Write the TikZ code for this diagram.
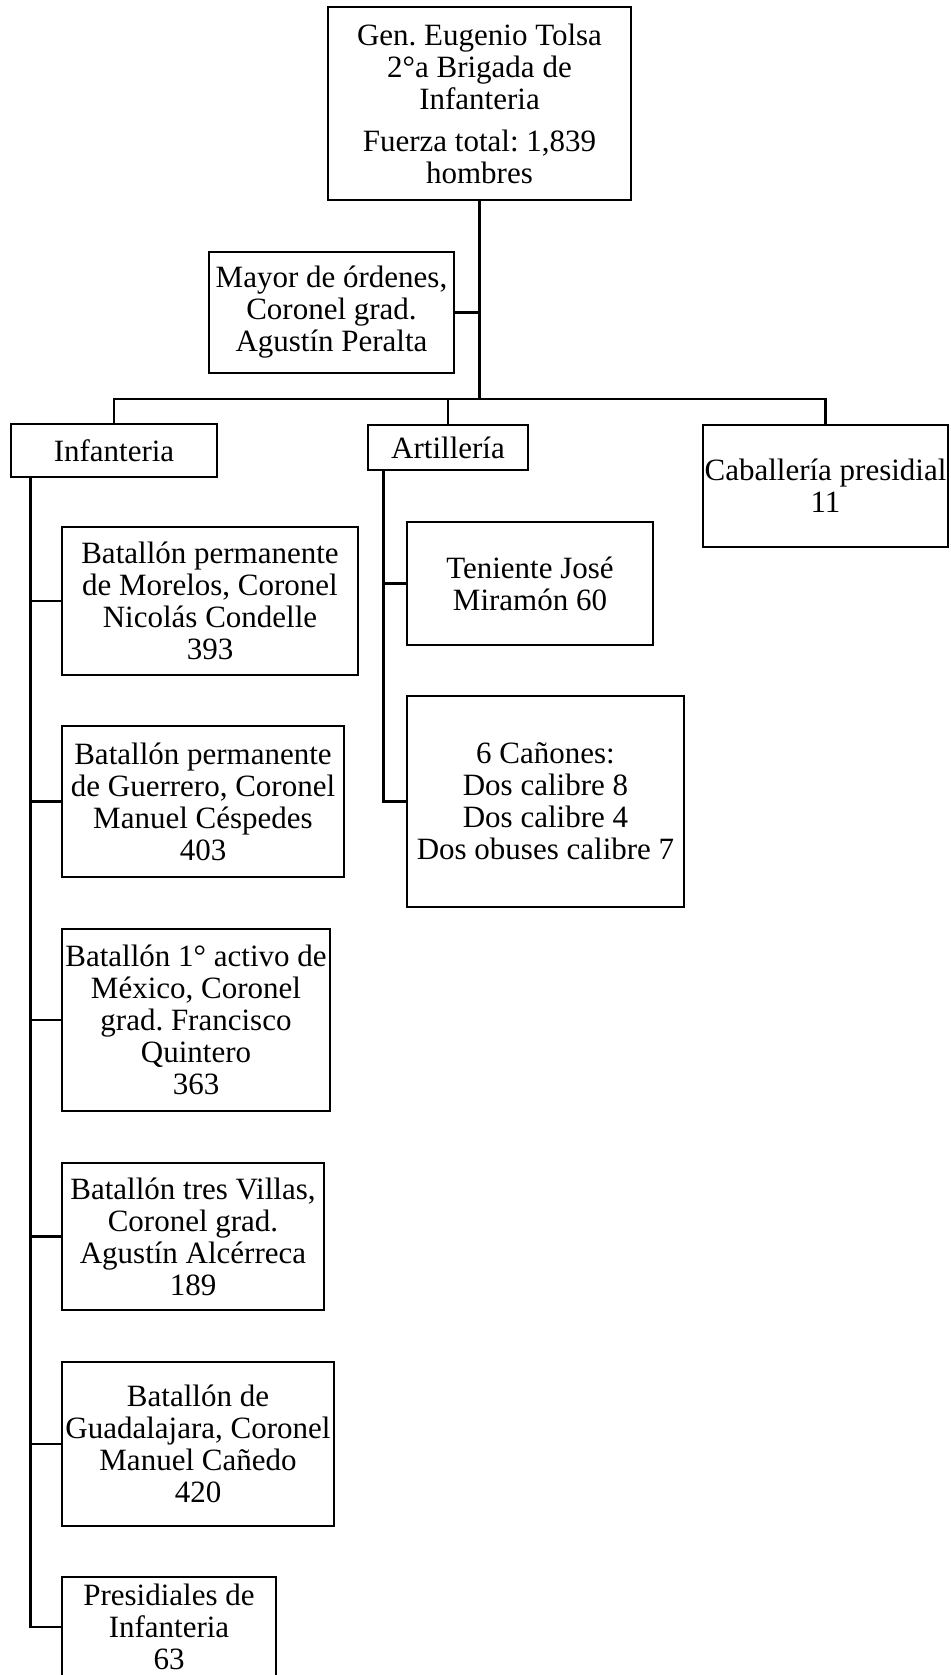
\documentclass[tikz,border=0pt]{standalone}
\usepackage{fontspec}
\setmainfont{Liberation Serif}
\frenchspacing
\begin{document}
\begin{tikzpicture}[x=1pt,y=-1pt,
		unit/.style={draw,line width=2.7pt,align=center,inner sep=0pt,font=\fontsize{31}{32}\selectfont},
		link/.style={line width=2.7pt}]
		\useasboundingbox (0,0) rectangle (950,1675);
		\node[unit,minimum width=303pt,minimum height=193pt] (tolsa) at (479.5,103.5) {Gen. Eugenio Tolsa\\2°a Brigada de\\Infanteria\\[10pt]Fuerza total: 1,839\\hombres};
		\node[unit,minimum width=245pt,minimum height=121pt] (mayor) at (331.5,312.5) {Mayor de órdenes,\\Coronel grad.\\Agustín Peralta};
		\node[unit,minimum width=206pt,minimum height=53pt] (infanteria) at (114,450.5) {Infanteria};
		\node[unit,minimum width=160pt,minimum height=45pt] (artilleria) at (448,447.5) {Artillería};
		\node[unit,minimum width=245pt,minimum height=122pt] (caballeria) at (825.5,486) {Caballería presidial\\11};
		\node[unit,minimum width=246pt,minimum height=123pt] (teniente) at (530,583.5) {Teniente José\\Miramón 60};
		\node[unit,minimum width=277pt,minimum height=211pt] (canones) at (545.5,801.5) {6 Cañones:\\Dos calibre 8\\Dos calibre 4\\Dos obuses calibre 7};
		\node[unit,minimum width=296pt,minimum height=148pt] (morelos) at (210,601) {Batallón permanente\\de Morelos, Coronel\\Nicolás Condelle\\393};
		\node[unit,minimum width=282pt,minimum height=151pt] (guerrero) at (203,801.5) {Batallón permanente\\de Guerrero, Coronel\\Manuel Céspedes\\403};
		\node[unit,minimum width=268pt,minimum height=182pt] (mexico) at (196,1020) {Batallón 1° activo de\\México, Coronel\\grad. Francisco\\Quintero\\363};
		\node[unit,minimum width=262pt,minimum height=147pt] (villas) at (193,1236.5) {Batallón tres Villas,\\Coronel grad.\\Agustín Alcérreca\\189};
		\node[unit,minimum width=272pt,minimum height=164pt] (guadalajara) at (198,1444) {Batallón de\\Guadalajara, Coronel\\Manuel Cañedo\\420};
		\node[unit,minimum width=214pt,minimum height=100pt] (presidiales) at (169,1627) {Presidiales de\\Infanteria\\63};
		\coordinate (hub) at (479.5,399);
		\coordinate (itrunk) at ([xshift=21pt]infanteria.south west);
		\coordinate (atrunk) at ([xshift=17pt]artilleria.south west);
		\draw[link] (tolsa.south) -- (hub);
		\draw[link] (mayor.east) -- (mayor.east -| hub);
		\draw[link] (infanteria.north) |- (hub) -| (caballeria.north);
		\draw[link] (artilleria.north) -- (artilleria.north |- hub);
		\draw[link] (itrunk) |- (presidiales.west);
		\foreach \b in {morelos,guerrero,mexico,villas,guadalajara}
			\draw[link] (\b.west) -- (\b.west -| itrunk);
		\draw[link] (atrunk) |- (canones.west);
		\draw[link] (teniente.west) -- (teniente.west -| atrunk);
	\end{tikzpicture}
\end{document}
